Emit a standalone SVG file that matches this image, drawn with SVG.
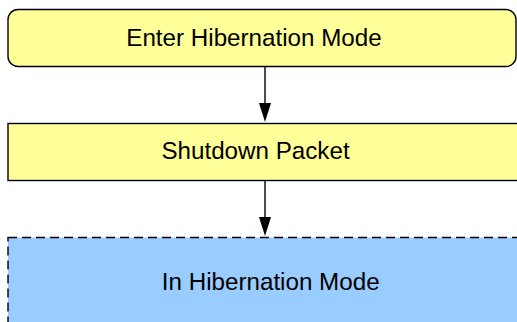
<svg xmlns="http://www.w3.org/2000/svg" width="517" height="322" viewBox="0 0 517 322">
<style>
.box{stroke:#000;stroke-width:1.4}
.y{fill:#FFFF99}
.b{fill:#99CCFF;stroke-dasharray:9,5}
.t{font-family:"Liberation Sans",Arial,sans-serif;font-size:24.2px;fill:#000;text-anchor:middle}
.c{stroke:#000;stroke-width:1.4;fill:none}
.ah{fill:#000}
</style>
<rect width="517" height="322" fill="#fff"/>
<g id="n1">
<rect class="box y" x="8" y="9.5" width="508" height="57" rx="10" ry="10"/>
<text class="t" x="254" y="46.2">Enter Hibernation Mode</text>
</g>
<g id="n2">
<rect class="box y" x="8" y="123.5" width="530" height="57"/>
<text class="t" x="255.5" y="158.6">Shutdown Packet</text>
</g>
<g id="n3">
<rect class="box b" x="8" y="237.5" width="540" height="120"/>
<text class="t" x="270.7" y="290.2">In Hibernation Mode</text>
</g>
<g id="connectors">
<line class="c" x1="265" y1="66.5" x2="265" y2="104"/>
<path class="ah" d="M259,103 L271,103 L265,122 Z"/>
<line class="c" x1="265" y1="180.5" x2="265" y2="218"/>
<path class="ah" d="M259,217 L271,217 L265,236 Z"/>
</g>
</svg>
